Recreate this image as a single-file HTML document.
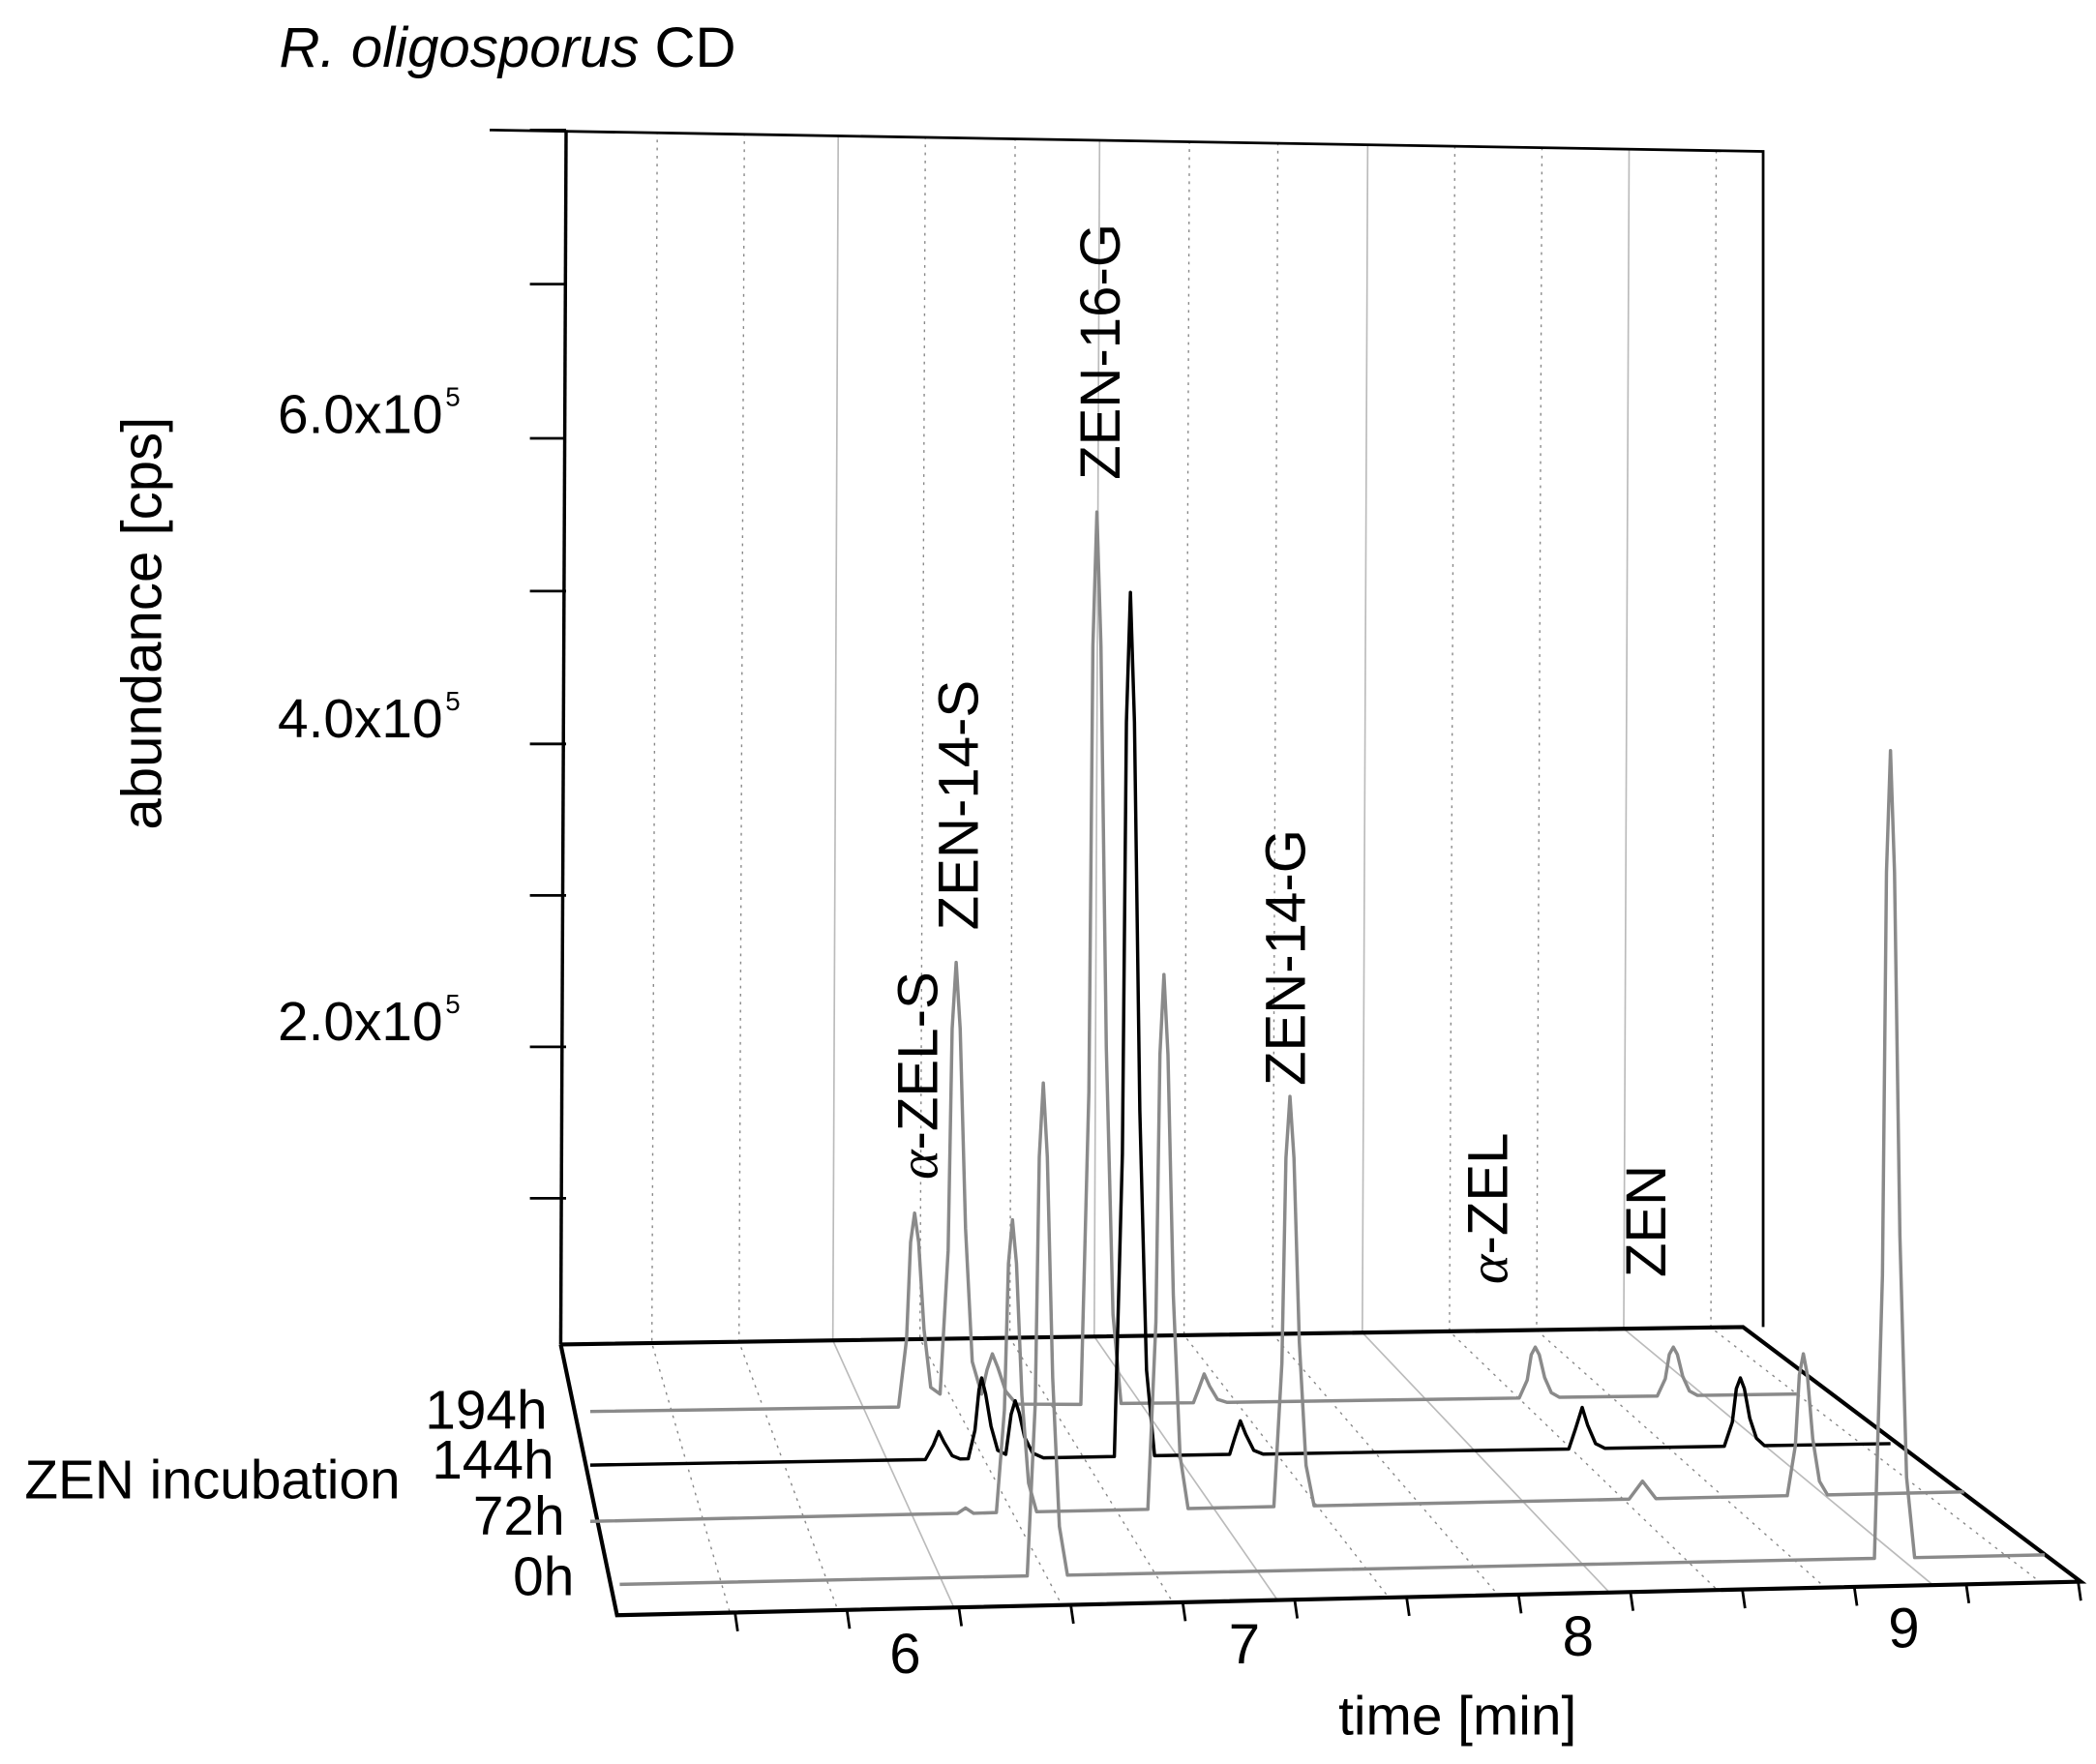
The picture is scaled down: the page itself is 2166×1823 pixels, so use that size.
<!DOCTYPE html>
<html><head><meta charset="utf-8"><style>
html,body{margin:0;padding:0;background:#fff;}
svg{display:block;}
text{font-family:"Liberation Sans",Arial,sans-serif;fill:#000;}
</style></head><body>
<svg width="2166" height="1823" viewBox="0 0 1563 1316" xmlns="http://www.w3.org/2000/svg">
<rect width="1563" height="1316" fill="#fff"/>
<g stroke="#888" stroke-width="1" stroke-dasharray="2,4" fill="none">
<polyline points="490,98.2 486,1002 544.2,1203.1"/>
<polyline points="555,99.4 551,1001 624.7,1201.2"/>
<polyline points="690,101.8 686,999 791.8,1197.4"/>
<polyline points="757,103 753,998.1 874.7,1195.5"/>
<polyline points="887,105.3 883,996.1 1035.7,1191.8"/>
<polyline points="953,106.5 949,995.2 1117.4,1190"/>
<polyline points="1085,108.9 1081,993.2 1280.8,1186.2"/>
<polyline points="1150,110.1 1146,992.3 1361.3,1184.4"/>
<polyline points="1280,112.4 1276,990.4 1522.2,1180.7"/>
</g>
<g stroke="#bbb" stroke-width="1.2" fill="none">
<polyline points="625,100.6 621,1000 711.3,1199.2"/>
<polyline points="820,104.2 816,997.1 952.7,1193.7"/>
<polyline points="1020,107.8 1016,994.2 1200.3,1188"/>
<polyline points="1215,111.2 1211,991.3 1441.7,1182.5"/>
</g>
<polyline points="365,97 1315,113 1315,990" fill="none" stroke="#000" stroke-width="2"/>
<line x1="422" y1="97" x2="418" y2="1003" stroke="#000" stroke-width="2.5"/>
<path d="M395,97H422M395,212H422M395,327H422M395,441H422M395,555H422M395,668H422M395,781H422M395,894H422" stroke="#000" stroke-width="2"/>
<polyline points="418,1003 1300,990 1552,1180 460,1205 418,1003" fill="none" stroke="#000" stroke-width="3"/>
<path d="M548,1203l2,14M631.5,1201.1l2,14M715,1199.2l2,14M798.5,1197.3l2,14M882,1195.4l2,14M965.5,1193.4l2,14M1049,1191.5l2,14M1132.5,1189.6l2,14M1216,1187.7l2,14M1299.5,1185.8l2,14M1383,1183.9l2,14M1466.5,1182l2,14M1550,1180.1l2,14" stroke="#000" stroke-width="2"/>
<g fill="none" stroke-width="2.5" stroke-linejoin="round">
<polyline stroke="#8a8a8a" points="440,1053 670,1049.7 676,998.9 679,926.7 682,905 685,926.7 689,991.7 694,1035 701,1040 707,933 710,767.6 713,718 716,767.6 720,916.6 725,1015.9 732,1040 736,1022 740,1010 744,1020 750,1038 758,1047.5 806,1047.7 812,814.6 815,481.8 818,382 821,481.8 825,781.3 830,980.9 836,1047 890,1046.5 894,1036 898,1025 902,1034 908,1044 915,1046.2 1133,1043 1139,1029.6 1142,1010.7 1145,1005 1148,1010.7 1152,1027.7 1157,1039 1163,1042.4 1236,1041.5 1242,1028.6 1245,1010.4 1248,1005 1251,1010.4 1255,1026.8 1260,1037.7 1266,1041 1340,1040"/>
<polyline stroke="#000" points="440,1093 690,1088.9 696,1078 700,1068 704,1076 710,1086 716,1088.4 722,1088.3 727,1067 730,1037 732,1028 735,1040 739,1064 744,1082 750,1085 754,1055 757,1045 760,1054 764,1072 770,1084 778,1087.6 831,1086.6 837,860.9 840,538.7 843,442 846,538.7 850,828.6 855,1022 861,1086 917,1085 921,1072 925,1060 929,1070 935,1082 942,1084.8 1170,1081 1175,1066 1180,1050 1184,1063 1190,1077 1197,1080.5 1286,1079 1292,1061 1295,1036 1298,1028 1301,1036 1305,1058 1310,1073 1316,1078.5 1410,1077"/>
<polyline stroke="#8a8a8a" points="440,1135 714,1129 720,1125 726,1129 743,1128.4 749,1051.8 752,942.7 755,910 758,942.7 762,1040.9 767,1106.4 773,1127.8 856,1126 862,986.2 865,786.8 868,727 871,786.8 875,966.3 880,1085.9 886,1125.4 950,1124 956,1016.8 959,863.9 962,818 965,863.9 969,1001.5 974,1093.2 980,1123.4 1215,1118.4 1225,1105 1235,1118 1333,1115.8 1339,1078.6 1342,1025.8 1345,1010 1348,1025.8 1352,1073.4 1357,1105 1363,1115.2 1465,1113"/>
<polyline stroke="#8a8a8a" points="462,1182 766,1175.7 772,1046.9 775,863.1 778,808 781,863 785,1028 790,1138.8 796,1175.1 1398,1162.6 1404,951.7 1407,650.7 1410,560 1413,650.7 1417,921.6 1422,1102.2 1428,1162 1525,1160"/>
</g>
<text x="208" y="50" font-size="42"><tspan font-style="italic">R. oligosporus</tspan> CD</text>
<text transform="translate(120,465) rotate(-90)" font-size="42" text-anchor="middle">abundance [cps]</text>
<text x="330" y="323" font-size="41" text-anchor="end">6.0x10</text><text x="332" y="303" font-size="20">5</text>
<text x="330" y="550" font-size="41" text-anchor="end">4.0x10</text><text x="332" y="530" font-size="20">5</text>
<text x="330" y="776" font-size="41" text-anchor="end">2.0x10</text><text x="332" y="756" font-size="20">5</text>
<text x="18" y="1118" font-size="41">ZEN incubation</text>
<text x="408" y="1066" font-size="41" text-anchor="end">194h</text>
<text x="413" y="1103" font-size="41" text-anchor="end">144h</text>
<text x="421" y="1145" font-size="41" text-anchor="end">72h</text>
<text x="428" y="1190" font-size="41" text-anchor="end">0h</text>
<text x="675" y="1248" font-size="42" text-anchor="middle">6</text>
<text x="928" y="1241" font-size="42" text-anchor="middle">7</text>
<text x="1177" y="1235" font-size="42" text-anchor="middle">8</text>
<text x="1420" y="1229" font-size="42" text-anchor="middle">9</text>
<text x="1087" y="1294" font-size="41" text-anchor="middle">time [min]</text>
<text transform="translate(699,880) rotate(-90)" font-size="42"><tspan font-family="Liberation Serif" font-style="italic">α</tspan>-ZEL-S</text>
<text transform="translate(729,694) rotate(-90)" font-size="42">ZEN-14-S</text>
<text transform="translate(835,358) rotate(-90)" font-size="42">ZEN-16-G</text>
<text transform="translate(973,810) rotate(-90)" font-size="42">ZEN-14-G</text>
<text transform="translate(1124,958) rotate(-90)" font-size="42"><tspan font-family="Liberation Serif" font-style="italic">α</tspan>-ZEL</text>
<text transform="translate(1242,953) rotate(-90)" font-size="42">ZEN</text>
</svg>
</body></html>
